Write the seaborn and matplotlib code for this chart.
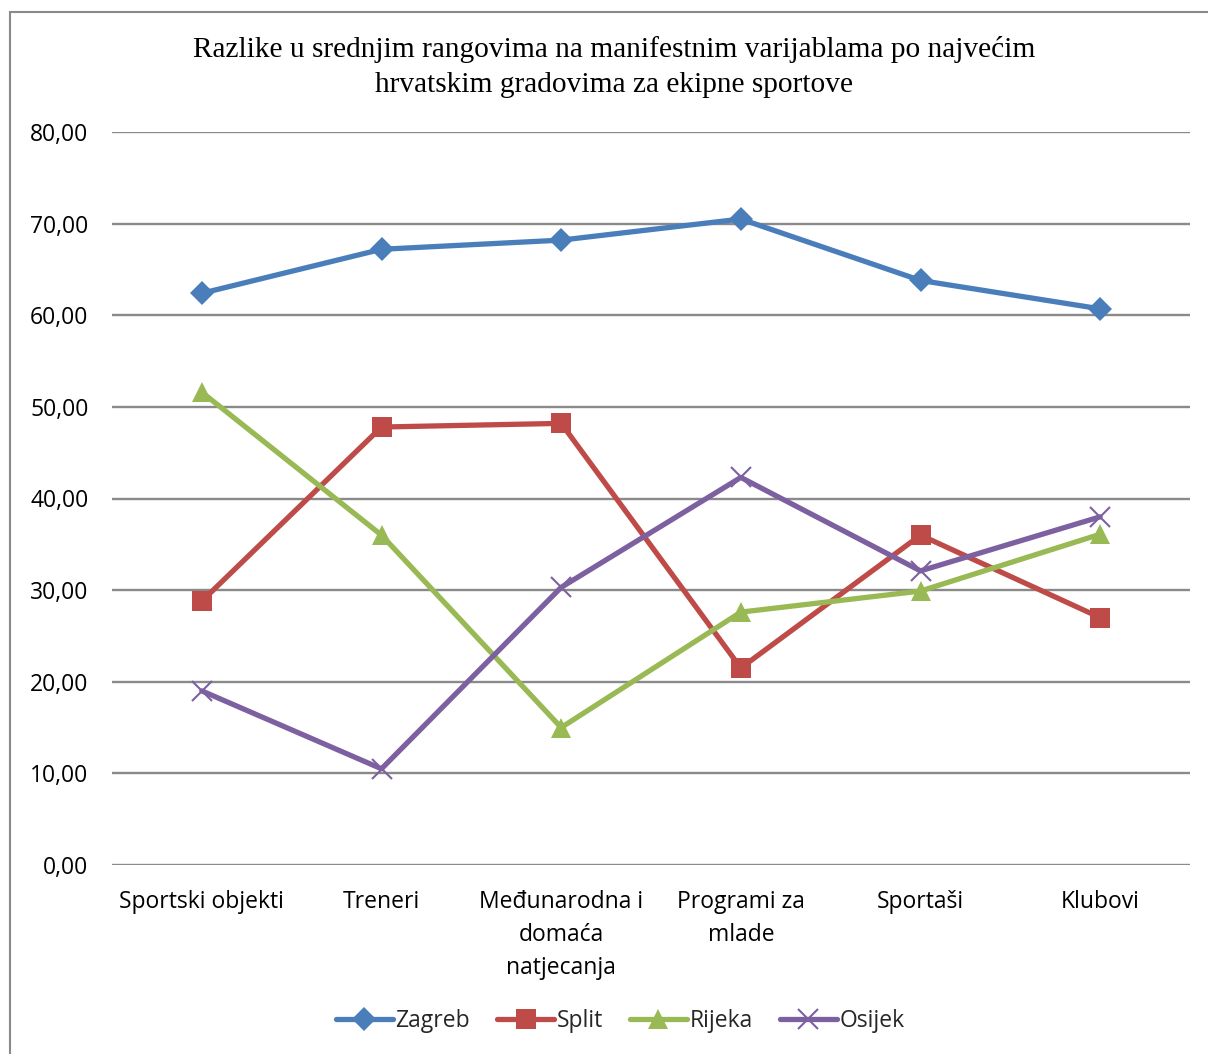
import pandas as pd
import matplotlib
matplotlib.use("Agg")
import matplotlib.pyplot as plt
import matplotlib.patches as mpatches
import seaborn as sns

# Data
categories = ['Sportski objekti', 'Treneri', 'Međunarodna i\ndomaća\nnatjecanja',
              'Programi za\nmlade', 'Sportaši', 'Klubovi']
zagreb = [62.4, 67.2, 68.2, 70.5, 63.8, 60.7]
split = [28.8, 47.8, 48.2, 21.5, 36.0, 27.0]
rijeka = [51.6, 36.0, 15.0, 27.6, 29.9, 36.1]
osijek = [19.0, 10.5, 30.3, 42.3, 32.1, 38.0]
cities = ['Zagreb', 'Split', 'Rijeka', 'Osijek']

colors = {'Zagreb': '#4a7ebb', 'Split': '#be4b48', 'Rijeka': '#98b954', 'Osijek': '#7d60a0'}
markers = {'Zagreb': 'D', 'Split': 's', 'Rijeka': '^', 'Osijek': 'x'}
msizes = {'Zagreb': 12, 'Split': 14, 'Rijeka': 15, 'Osijek': 14}

rows = []
for city, vals in zip(cities, [zagreb, split, rijeka, osijek]):
    for i, v in enumerate(vals):
        rows.append({'pos': i, 'value': v, 'city': city})
df = pd.DataFrame(rows)

sns.set_style("white")
plt.rcParams['font.family'] = ['Open Sans', 'DejaVu Sans']

fig = plt.figure(figsize=(12.08, 10.54), dpi=100)
ax = fig.add_axes([112 / 1208, 1 - 865 / 1054, (1190 - 112) / 1208, (865 - 132) / 1054])

for city in cities:
    sub = df[df['city'] == city]
    sns.lineplot(data=sub, x='pos', y='value', ax=ax, color=colors[city],
                 linewidth=3.8, marker=markers[city], markersize=msizes[city],
                 markeredgecolor=colors[city], markeredgewidth=1.5 if city == 'Osijek' else 0,
                 label=city, legend=False, zorder=3)

ax.set_xlim(-0.5, 5.5)
ax.set_ylim(0, 80)
ax.set_yticks(range(0, 81, 10))
ax.set_yticklabels([f'{v:.2f}'.replace('.', ',') for v in range(0, 81, 10)],
                   fontsize=16.5, color='black')
ax.set_xticks(range(len(categories)))
ax.set_xticklabels(categories, fontsize=16.5, color='black', linespacing=1.5)
ax.tick_params(axis='y', length=0, pad=17)
ax.tick_params(axis='x', length=0, pad=18)
ax.set_xlabel('')
ax.set_ylabel('')
ax.yaxis.grid(True, color='#8a8a8a', linewidth=1.7)
ax.set_axisbelow(True)
for s in ax.spines.values():
    s.set_visible(False)

fig.text(614 / 1208, 1 - 67 / 1054,
         'Razlike u srednjim rangovima na manifestnim varijablama po najvećim\nhrvatskim gradovima za ekipne sportove',
         ha='center', va='center', fontsize=21.2, family='Liberation Serif',
         linespacing=1.45, color='black')

handles, labels = ax.get_legend_handles_labels()
fig.legend(handles, labels, loc='center', bbox_to_anchor=(620 / 1208, 1 - 1021 / 1054),
           ncol=4, frameon=False, fontsize=16.5, handlelength=2.5, handletextpad=0.1,
           columnspacing=1.18)

# outer chart border
fig.patches.append(mpatches.Rectangle((10 / 1208, -0.01), 1.2, 1 - 12 / 1054 + 0.01,
                                      transform=fig.transFigure, fill=False,
                                      edgecolor='#8a8a8a', linewidth=1.5))

fig.savefig('out.png', dpi=100)
